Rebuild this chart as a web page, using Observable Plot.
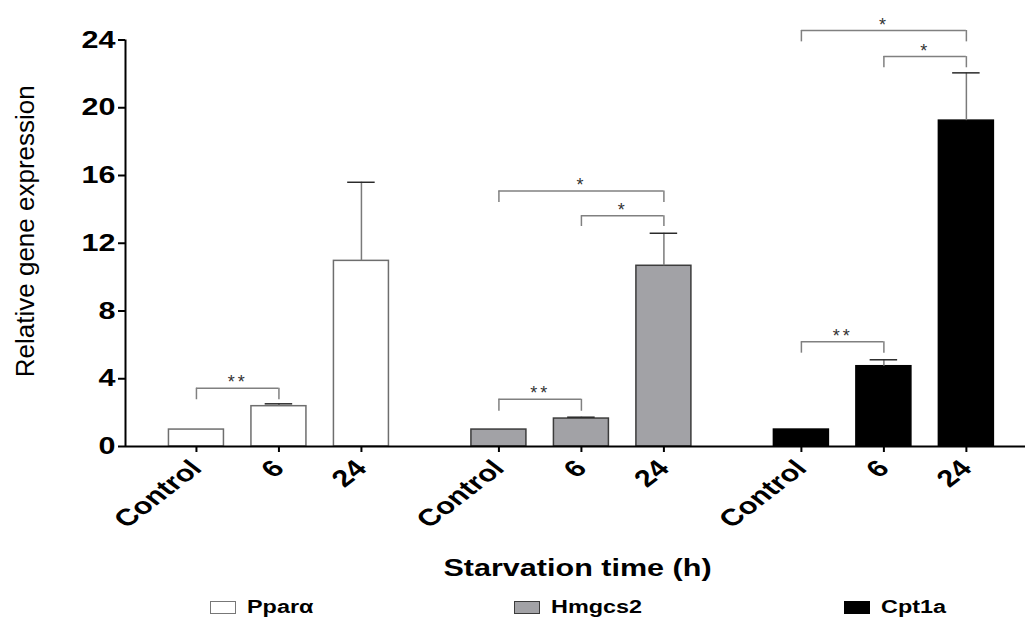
<!DOCTYPE html>
<html>
<head>
<meta charset="utf-8">
<script src="https://cdn.jsdelivr.net/npm/d3@7"></script>
<script src="https://cdn.jsdelivr.net/npm/@observablehq/plot@0.6"></script>
<style>
  body { margin: 0; background: #fff; }
  #wrap { position: relative; width: 1025px; height: 619px; overflow: hidden; }
  #legend { position: absolute; left: 0; top: 595px; width: 1025px; height: 24px;
            font-family: "Liberation Sans", Arial, sans-serif; font-weight: bold; font-size: 18px; color: #000; }
  .item { position: absolute; top: 0; height: 24px; display: flex; align-items: center; }
  .swatch { width: 26px; height: 13px; box-sizing: border-box; margin-right: 11px; flex: none; }
  .name { display: inline-block; transform: scaleX(1.3); transform-origin: left center; white-space: nowrap; }
</style>
</head>
<body>
<div id="wrap"></div>
<script>
// Relative expression (mean) and SEM per gene, by starvation time
const genes = ["Pparα", "Hmgcs2", "Cpt1a"];
const times = ["Control", "6", "24"];
const pparMean = [1.0, 2.38, 10.96];
const pparSem = [0, 0.14, 4.64];
const hmgcs2Mean = [1.0, 1.65, 10.67];
const hmgcs2Sem = [0, 0.08, 1.92];
const cpt1aMean = [1.0, 4.74, 19.24];
const cpt1aSem = [0, 0.38, 2.82];
const yTicks = [0, 4, 8, 12, 16, 20, 24];

// Significance brackets: gene, compared times, bracket height, leg foot, label
const sigGene = ["Pparα", "Hmgcs2", "Hmgcs2", "Hmgcs2", "Cpt1a", "Cpt1a", "Cpt1a"];
const sigFrom = ["Control", "Control", "6", "Control", "Control", "6", "Control"];
const sigTo = ["6", "6", "24", "24", "6", "24", "24"];
const sigTop = [3.44, 2.79, 13.62, 15.09, 6.18, 23.02, 24.56];
const sigFoot = [2.76, 2.08, 12.99, 14.40, 5.51, 22.36, 23.89];
const sigLabel = ["**", "**", "*", "*", "**", "*", "*"];

const yLabel = "Relative gene expression";
const xLabel = "Starvation time (h)";

const barFill = {"Pparα": "#ffffff", "Hmgcs2": "#a2a2a6", "Cpt1a": "#000000"};
const barStroke = {"Pparα": "#6e6e6e", "Hmgcs2": "#3c3c3c", "Cpt1a": "#000000"};

// bar slots: three per gene, with a two-thirds slot gap between gene groups
const groupStride = 3 + 2 / 3;
const slot = (g, t) => genes.indexOf(g) * groupStride + times.indexOf(t);
const xDomain = [-0.86, 10.05];

const series = [pparMean, hmgcs2Mean, cpt1aMean];
const errors = [pparSem, hmgcs2Sem, cpt1aSem];
const rows = genes.flatMap((g, gi) => times.map((t, ti) => ({
  gene: g, time: t, pos: slot(g, t), mean: series[gi][ti], sem: errors[gi][ti]
})));
const withErr = rows.filter(d => d.sem > 0);
const labelAt = new Map(rows.map(d => [d.pos, d.time]));

const brackets = sigGene.map((g, i) => ({
  x1: slot(g, sigFrom[i]), x2: slot(g, sigTo[i]),
  top: sigTop[i], foot: sigFoot[i], label: sigLabel[i]
}));

const font = "Liberation Sans, Arial, sans-serif";
const bracketColor = "#808080";

const chart = Plot.plot({
  width: 1025,
  height: 590,
  marginLeft: 125,
  marginRight: 0,
  marginTop: 39.5,
  marginBottom: 144,
  style: {fontFamily: font, background: "#fff", color: "#000"},
  x: {domain: xDomain, axis: null},
  y: {domain: [0, 24], axis: null},
  color: {type: "identity"},
  marks: [
    Plot.rect(rows, {
      x1: d => d.pos - 1 / 3, x2: d => d.pos + 1 / 3, y1: 0, y2: "mean",
      fill: d => barFill[d.gene], stroke: d => barStroke[d.gene], strokeWidth: 1.5
    }),
    // upward error bars (SEM)
    Plot.ruleX(withErr, {x: "pos", y1: "mean", y2: d => d.mean + d.sem, stroke: "#7a7a7a", strokeWidth: 1.5}),
    Plot.ruleY(withErr, {y: d => d.mean + d.sem, x1: d => d.pos - 1 / 6, x2: d => d.pos + 1 / 6, stroke: "#2a2a2a", strokeWidth: 1.5}),
    // significance brackets
    Plot.ruleY(brackets, {y: "top", x1: "x1", x2: "x2", stroke: bracketColor, strokeWidth: 1.5}),
    Plot.ruleX(brackets, {x: "x1", y1: "foot", y2: "top", stroke: bracketColor, strokeWidth: 1.5}),
    Plot.ruleX(brackets, {x: "x2", y1: "foot", y2: "top", stroke: bracketColor, strokeWidth: 1.5}),
    Plot.text(brackets, {
      x: d => (d.x1 + d.x2) / 2, y: "top", text: "label", lineAnchor: "bottom",
      dy: 0, fontSize: 18, fill: "#333"
    }),
    // axis lines
    Plot.ruleY([0], {stroke: "#000", strokeWidth: 2}),
    Plot.ruleX([xDomain[0]], {stroke: "#000", strokeWidth: 2}),
    Plot.axisY(yTicks, {
      tickSize: 7, tickPadding: 3, strokeWidth: 2, fontSize: 23.5, fontWeight: "bold", label: null
    }),
    Plot.axisX(rows.map(d => d.pos), {
      tickSize: 6, tickPadding: 12, tickRotate: -45, tickFormat: d => labelAt.get(d),
      strokeWidth: 2, fontSize: 23.5, fontWeight: "bold", label: null
    }),
    Plot.text([yLabel], {
      frameAnchor: "left", text: d => d, rotate: -90, textAnchor: "middle",
      dx: -100, dy: -12, fontSize: 26
    }),
    Plot.text([xLabel], {
      frameAnchor: "bottom", text: d => d, textAnchor: "middle", dx: 2, dy: 129,
      fontSize: 23.5, fontWeight: "bold"
    })
  ]
});

// widen the bold label type horizontally, about each label's own anchor
function widen(t, k) {
  const tr = t.getAttribute("transform");
  if (tr && /translate\(/.test(tr)) {
    t.setAttribute("transform", tr.replace(/(translate\([^)]*\))/, `$1 scale(${k},1)`));
  } else {
    const x = +(t.getAttribute("x") || 0);
    t.setAttribute("transform", `translate(${x},0) scale(${k},1) translate(${-x},0)` + (tr ? " " + tr : ""));
  }
}
chart.querySelectorAll('g[aria-label="y-axis tick label"] text, g[aria-label="x-axis tick label"] text')
  .forEach(t => widen(t, 1.3));
chart.querySelectorAll("text").forEach(t => {
  if (t.textContent === xLabel) widen(t, 1.3);
  if (sigLabel.includes(t.textContent)) t.style.letterSpacing = "3px";
});

const wrap = document.getElementById("wrap");
wrap.appendChild(chart);

// legend below the chart
const legendLeft = {"Pparα": 210, "Hmgcs2": 514, "Cpt1a": 844};
const legend = document.createElement("div");
legend.id = "legend";
for (const g of genes) {
  const item = document.createElement("div");
  item.className = "item";
  item.style.left = legendLeft[g] + "px";
  const sw = document.createElement("span");
  sw.className = "swatch";
  sw.style.background = barFill[g];
  sw.style.border = "1.5px solid " + (g === "Pparα" ? "#777" : barStroke[g]);
  const nm = document.createElement("span");
  nm.className = "name";
  nm.textContent = g;
  item.append(sw, nm);
  legend.appendChild(item);
}
wrap.appendChild(legend);
</script>
</body>
</html>
